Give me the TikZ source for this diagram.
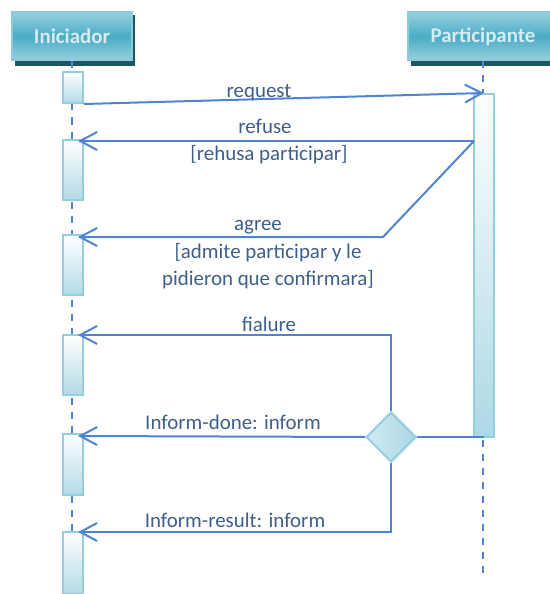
\documentclass[tikz,border=0pt]{standalone}
\usepackage{fontspec}
\setmainfont{Carlito}
\usetikzlibrary{shapes.geometric,arrows.meta}
\definecolor{linec}{RGB}{79,132,212}
\definecolor{txtc}{RGB}{62,94,140}
\definecolor{boxedge}{RGB}{146,206,220}
\definecolor{actbot}{RGB}{178,218,230}
\definecolor{titlemid}{RGB}{75,172,198}
\definecolor{titlelight}{RGB}{150,208,222}
\definecolor{titletext}{RGB}{214,236,243}
\definecolor{shadowc}{RGB}{30,84,100}
\definecolor{gateleft}{RGB}{208,235,242}
\definecolor{gateright}{RGB}{172,215,228}
\tikzset{
  msg/.style={draw=linec, line width=2bp, -{Straight Barb[length=17bp,width=18bp,line width=2bp]}},
  seg/.style={draw=linec, line width=2bp},
  lifeline/.style={draw=linec, line width=2bp, dash pattern=on 7bp off 7bp},
  act/.style={draw=boxedge, line width=2bp, top color=white, bottom color=actbot, minimum width=20bp, inner sep=0pt},
  titlebox/.style={draw=boxedge!90!titlemid, line width=2bp, top color=titlelight, bottom color=titlelight, middle color=titlemid, minimum height=48bp, inner sep=0pt, font=\fontsize{21}{25}\selectfont\bfseries, text=titletext},
  lbl/.style={text=txtc, font=\fontsize{21}{28}\selectfont, inner sep=0pt, anchor=base},
  gate/.style={diamond, draw=boxedge, line width=2bp, left color=gateleft, right color=gateright, minimum width=50bp, minimum height=50bp, inner sep=0pt, aspect=1}
}
\begin{document}
\begin{tikzpicture}[x=1bp,y=-1bp]
\useasboundingbox (0,0) rectangle (550,594);
% shadows
\fill[shadowc] (15,15) rectangle (135,66);
\fill[shadowc] (411,15) rectangle (561,66);
% title boxes
\node[titlebox, minimum width=120bp] (ini) at (72,36.5) {Iniciador};
\node[titlebox, minimum width=150bp] (par) at (483,36.5) {Participante};
% lifelines
\coordinate (iend) at (72,594);
\coordinate (pend) at (483,579);
\draw[lifeline] (ini.south) -- (iend);
\draw[lifeline] (par.south) -- (pend);
% activations
\node[act, minimum height=31bp] (a1) at (73,87.5) {};
\node[act, minimum height=60bp] (a2) at (73,170) {};
\node[act, minimum height=60bp] (a3) at (73,265) {};
\node[act, minimum height=60bp] (a4) at (73,365) {};
\node[act, minimum height=61bp] (a5) at (73,464.5) {};
\node[act, minimum height=62bp] (a6) at (73,563) {};
\node[act, minimum height=343bp, bottom color=actbot!95!titlemid] (p1) at (484,265.5) {};
% gate
\node[gate] (g) at (391,437) {};
% coordinates
\coordinate (rs) at (474,141);
\coordinate (rt) at (78,141);
\coordinate (ak) at (383,237);
\coordinate (at) at (78,237);
\coordinate (ft) at (78,335);
\coordinate (dt) at (78,436);
\coordinate (it) at (78,532);
\coordinate (ps) at (484,437);
% messages
\draw[msg] (a1.south east) -- (p1.north);
\draw[msg] (rs) -- (rt);
\draw[msg] (rs) -- (ak) -- (at);
\draw[msg] (g.north) |- (ft);
\draw[seg] (ps) -- (g.east);
\draw[msg] (g.west) -- (dt);
\draw[msg] (g.south) |- (it);
% labels
\node[lbl] (l1) at (259,98) {request};
\node[lbl] (l2) at (265,134) {refuse};
\node[lbl] (l3) at (269,161) {[rehusa participar]};
\node[lbl] (l4) at (258,230) {agree};
\node[lbl] (l5) at (268,258) {[admite participar y le};
\node[lbl] (l6) at (268,285) {pidieron que confirmara]};
\node[lbl] (l7) at (269,331) {fialure};
\node[lbl] (l8) at (233,429) {Inform-done: inform};
\node[lbl] (l9) at (235,527) {Inform-result: inform};
\end{tikzpicture}
\end{document}
